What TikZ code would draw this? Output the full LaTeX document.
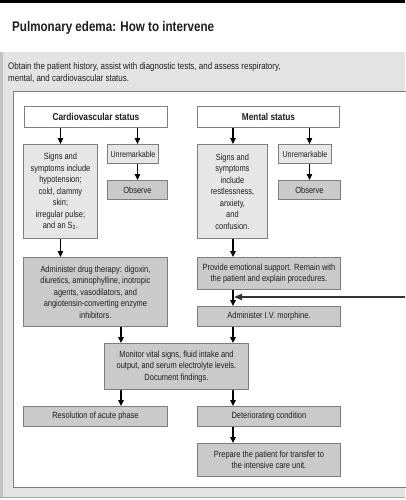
\documentclass[tikz,border=0pt]{standalone}
\usepackage{fontspec}
\setmainfont{Liberation Sans}[FakeStretch=0.83]
\usetikzlibrary{arrows.meta,calc}
\definecolor{bandgray}{HTML}{E3E3E3}
\definecolor{stripgray}{HTML}{C4C4C4}
\definecolor{lightbox}{HTML}{E6E6E6}
\definecolor{medbox}{HTML}{CACACA}
\definecolor{edgegray}{HTML}{7E7E7E}
\definecolor{txt}{HTML}{1E1E1E}
\tikzset{
  box/.style={draw=edgegray, line width=0.9pt, inner sep=0pt, anchor=north west,
    align=center, text=txt, font=\fontsize{9}{11.5}\selectfont},
  whitebox/.style={box, fill=white, font=\fontsize{10}{11.5}\selectfont\bfseries},
  lbox/.style={box, fill=lightbox},
  mbox/.style={box, fill=medbox},
  smalltext/.style={font=\fontsize{8.6}{10}\selectfont},
  arr/.style={draw=black, line width=1.1pt, -{Triangle[length=6pt,width=5.5pt]}},
  arrin/.style={draw=black!80, line width=1.6pt, -{Triangle[length=8pt,width=6pt]}}
}
\begin{document}
\begin{tikzpicture}[x=1pt,y=-1pt]
\useasboundingbox (0,0) rectangle (405,500);
% background
\fill[white] (0,0) rectangle (405,500);
\fill[black] (0,0) rectangle (405,3);
\fill[bandgray] (0,52) rectangle (405,497);
\draw[black!35, line width=0.8pt] (0,497) -- (405,497);
\fill[stripgray] (0,52) rectangle (3,497);
\draw[edgegray, line width=0.9pt, fill=white] (13,91) rectangle (412,487);
% title and intro
\node[anchor=base west, inner sep=0pt, text=txt, font=\fontsize{14}{16}\selectfont\bfseries] (title) at (12,32) {Pulmonary edema: How to intervene};
\node[anchor=north west, inner sep=0pt, align=left, text=txt, font=\fontsize{9.6}{12}\selectfont] (intro) at (8,62) {Obtain the patient history, assist with diagnostic tests, and assess respiratory,\\mental, and cardiovascular status.};
% boxes
\node[whitebox, minimum width=143, minimum height=21] (cvs) at (24,106) {Cardiovascular status};
\node[lbox, minimum width=74, minimum height=94] (cvsig) at (23,144) {Signs and\\symptoms include\\hypotension;\\cold, clammy\\skin;\\irregular pulse;\\and an S\textsubscript{3}.};
\node[lbox, smalltext, minimum width=51, minimum height=19] (cvunr) at (107,144) {Unremarkable};
\node[mbox, minimum width=60, minimum height=19] (cvobs) at (107,180) {Observe};
\node[whitebox, minimum width=142, minimum height=21] (ms) at (197,106) {Mental status};
\node[lbox, minimum width=70, minimum height=94] (msig) at (197,144) {Signs and\\symptoms\\include\\restlessness,\\anxiety,\\and\\confusion.};
\node[lbox, smalltext, minimum width=53, minimum height=19] (munr) at (278,144) {Unremarkable};
\node[mbox, minimum width=62, minimum height=19] (mobs) at (278,180) {Observe};
\node[mbox, minimum width=144, minimum height=69] (drug) at (23,257) {Administer drug therapy: digoxin,\\diuretics, aminophylline, inotropic\\agents, vasodilators, and\\angiotensin-converting enzyme\\inhibitors.};
\node[mbox, minimum width=143, minimum height=32] (emo) at (197,257) {Provide emotional support. Remain with\\the patient and explain procedures.};
\node[mbox, minimum width=143, minimum height=20] (morph) at (197,306) {Administer I.V. morphine.};
\node[mbox, minimum width=144, minimum height=46] (mon) at (104,343) {Monitor vital signs, fluid intake and\\output, and serum electrolyte levels.\\Document findings.};
\node[mbox, minimum width=144, minimum height=20] (res) at (23,406) {Resolution of acute phase};
\node[mbox, minimum width=143, minimum height=20] (det) at (197,406) {Deteriorating condition};
\node[mbox, minimum width=143, minimum height=33] (prep) at (197,443) {Prepare the patient for transfer to\\the intensive care unit.};
% helper coordinates
\coordinate (lc) at (121,0);
\coordinate (rc) at (233,0);
\coordinate (rin) at (405,297);
% connectors
\draw[arr] (cvsig.north |- cvs.south) -- (cvsig.north);
\draw[arr] (cvobs.north |- cvs.south) -- (cvobs.north |- cvunr.north);
\draw[arr] (cvobs.north |- cvunr.south) -- (cvobs.north);
\draw[arr] (rc |- ms.south) -- (rc |- msig.north);
\draw[arr] (mobs.north |- ms.south) -- (mobs.north |- munr.north);
\draw[arr] (mobs.north |- munr.south) -- (mobs.north);
\draw[arr] (cvsig.south) -- (cvsig.south |- drug.north);
\draw[arr] (rc |- msig.south) -- (rc |- emo.north);
\draw[arr] (rc |- emo.south) -- (rc |- morph.north);
\draw[arrin] (rin) -- ([xshift=1pt]rc |- rin);
\draw[arr] (lc |- drug.south) -- (lc |- mon.north);
\draw[arr] (rc |- morph.south) -- (rc |- mon.north);
\draw[arr] (lc |- mon.south) -- (lc |- res.north);
\draw[arr] (rc |- mon.south) -- (rc |- det.north);
\draw[arr] (rc |- det.south) -- (rc |- prep.north);
\end{tikzpicture}
\end{document}
